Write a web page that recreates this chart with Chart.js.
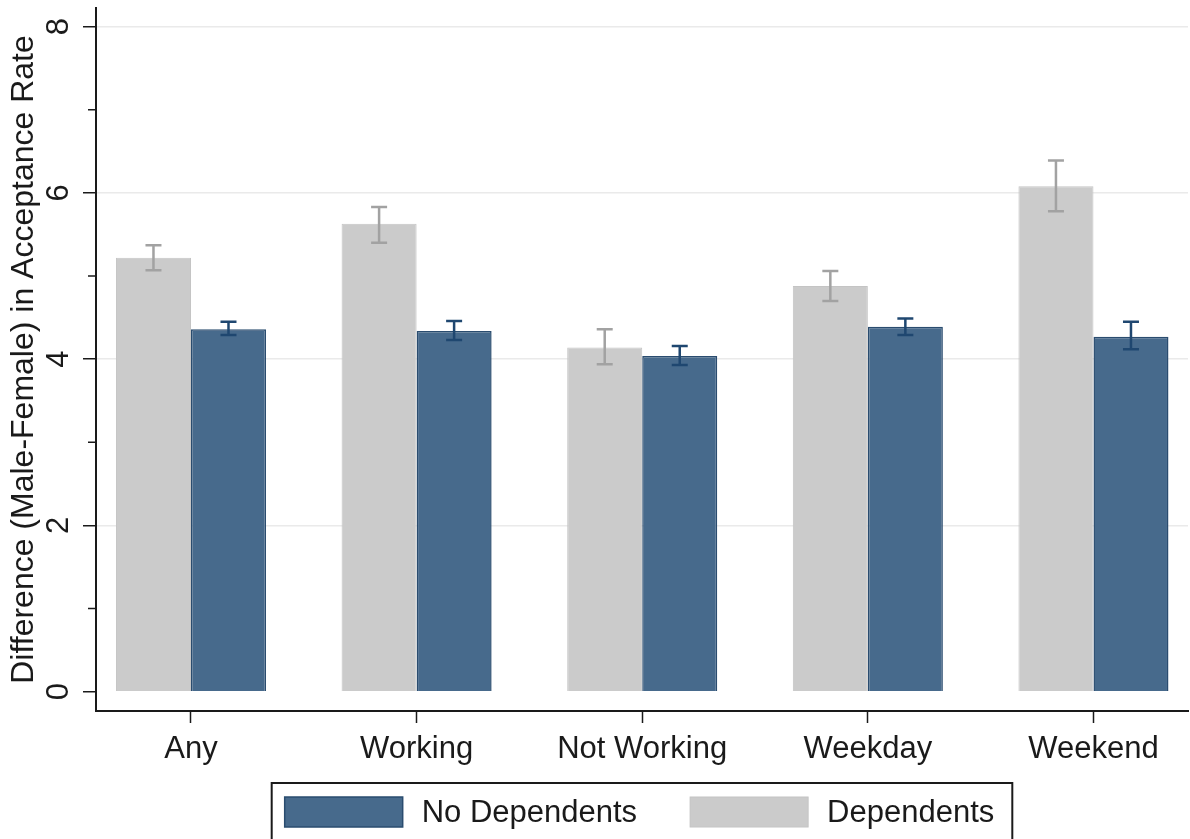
<!DOCTYPE html>
<html>
<head>
<meta charset="utf-8">
<script src="https://cdn.jsdelivr.net/npm/chart.js@4/dist/chart.umd.min.js"></script>
<style>
  html, body { margin: 0; padding: 0; background: #fff; }
  canvas { display: block; }
</style>
</head>
<body>
<canvas id="chart" width="1190" height="839"></canvas>
<script>
// categories and values
const categories = ["Any", "Working", "Not Working", "Weekday", "Weekend"]
const depMean = [5.22, 5.63, 4.14, 4.88, 6.08]
const depLow = [5.07, 5.40, 3.94, 4.70, 5.78]
const depHigh = [5.37, 5.83, 4.36, 5.06, 6.39]
const noDepMean = [4.36, 4.34, 4.04, 4.39, 4.27]
const noDepLow = [4.29, 4.23, 3.93, 4.29, 4.12]
const noDepHigh = [4.45, 4.46, 4.16, 4.49, 4.45]
const yTicks = [0, 2, 4, 6, 8]
const yMinorTicks = [1, 3, 5, 7]

const FONT = "'Liberation Sans', Arial, sans-serif"
const INK = "#1a1a1a"

// error bars drawn at each bar's x, heights from the y scale
const errorBars = {
  id: "errorBars",
  afterDatasetsDraw(chart) {
    const ctx = chart.ctx
    const y = chart.scales.y
    chart.data.datasets.forEach((ds, d) => {
      const meta = chart.getDatasetMeta(d)
      meta.data.forEach((bar, i) => {
        const top = y.getPixelForValue(ds.errHigh[i])
        const bot = y.getPixelForValue(ds.errLow[i])
        ctx.save()
        ctx.strokeStyle = ds.errColor
        ctx.lineWidth = 2.5
        ctx.beginPath()
        ctx.moveTo(bar.x, top); ctx.lineTo(bar.x, bot)
        ctx.moveTo(bar.x - 8, top); ctx.lineTo(bar.x + 8, top)
        ctx.moveTo(bar.x - 8, bot); ctx.lineTo(bar.x + 8, bot)
        ctx.stroke()
        ctx.restore()
      })
    })
  }
}

// short minor ticks on the y axis
const minorTicks = {
  id: "minorTicks",
  afterDraw(chart) {
    const ctx = chart.ctx
    const y = chart.scales.y
    const x0 = chart.chartArea.left
    ctx.save()
    ctx.strokeStyle = INK
    ctx.lineWidth = 1.5
    ctx.beginPath()
    yMinorTicks.forEach(v => {
      const py = y.getPixelForValue(v)
      ctx.moveTo(x0 - 8, py); ctx.lineTo(x0, py)
    })
    ctx.stroke()
    ctx.restore()
  }
}

// boxed legend under the plot, items in reverse dataset order
const boxedLegend = {
  id: "boxedLegend",
  afterDraw(chart) {
    const ctx = chart.ctx
    const area = chart.chartArea
    const items = chart.data.datasets.slice().reverse()
    const swW = 118, swH = 30, gapText = 19, gapItem = 53, padL = 13, padR = 18
    ctx.save()
    ctx.font = "31px " + FONT
    const widths = items.map(ds => ctx.measureText(ds.label).width)
    let total = padL + padR + gapItem * (items.length - 1)
    widths.forEach(w => { total += swW + gapText + w })
    const frameLeft = (area.left + area.right) / 2 - total / 2
    const frameTop = 783
    const swTop = frameTop + 14
    ctx.strokeStyle = INK
    ctx.lineWidth = 2
    ctx.strokeRect(frameLeft, frameTop, total, chart.height + 10 - frameTop)
    let x = frameLeft + padL
    items.forEach((ds, i) => {
      ctx.fillStyle = ds.backgroundColor
      ctx.fillRect(x, swTop, swW, swH)
      ctx.strokeStyle = ds.borderColor
      ctx.lineWidth = ds.borderWidth
      ctx.strokeRect(x, swTop, swW, swH)
      ctx.fillStyle = INK
      ctx.textBaseline = "middle"
      ctx.textAlign = "left"
      ctx.fillText(ds.label, x + swW + gapText, swTop + swH / 2 + 1)
      x += swW + gapText + widths[i] + gapItem
    })
    ctx.restore()
  }
}

new Chart(document.getElementById("chart"), {
  type: "bar",
  data: {
    datasets: [
      {
        label: "Dependents",
        data: categories.map((c, i) => ({ x: i + 1, y: depMean[i] })),
        backgroundColor: "#cbcbcb",
        borderColor: "#c4c4c4",
        borderWidth: 1,
        errLow: depLow,
        errHigh: depHigh,
        errColor: "#a2a2a2",
      },
      {
        label: "No Dependents",
        data: categories.map((c, i) => ({ x: i + 1, y: noDepMean[i] })),
        backgroundColor: "#476a8c",
        borderColor: "#2a4c6f",
        borderWidth: 1.5,
        errLow: noDepLow,
        errHigh: noDepHigh,
        errColor: "#1f4770",
      },
    ],
  },
  plugins: [errorBars, minorTicks, boxedLegend],
  options: {
    responsive: false,
    animation: false,
    categoryPercentage: 0.665,
    barPercentage: 1,
    layout: { padding: { top: 8, right: 2, left: 0, bottom: 0 } },
    plugins: {
      tooltip: { enabled: false },
      legend: { display: false },
    },
    scales: {
      x: {
        type: "linear",
        offset: false,
        min: 0.579,
        max: 5.419,
        afterBuildTicks: s => { s.ticks = categories.map((c, i) => ({ value: i + 1 })) },
        afterFit: s => { s.height = 128; s.paddingLeft = 0; s.paddingRight = 0 },
        ticks: {
          autoSkip: false,
          maxRotation: 0,
          padding: 8,
          color: INK,
          font: { family: FONT, size: 31 },
          callback: v => categories[v - 1],
        },
        grid: { offset: false, drawOnChartArea: false, drawTicks: true, tickLength: 12, tickColor: INK, tickWidth: 1.5 },
        border: { display: true, color: INK, width: 2 },
      },
      y: {
        min: -0.232,
        max: 8.225,
        afterBuildTicks: s => { s.ticks = yTicks.map(v => ({ value: v })) },
        afterFit: s => { s.width = 96; s.paddingTop = 0; s.paddingBottom = 0 },
        ticks: {
          minRotation: 90,
          maxRotation: 90,
          crossAlign: "center",
          padding: 15,
          color: INK,
          font: { family: FONT, size: 31 },
        },
        grid: {
          color: ctx => (ctx.tick && ctx.tick.value > 0 ? "#eaeaea" : "rgba(0,0,0,0)"),
          lineWidth: 1.5,
          tickLength: 13,
          tickColor: INK,
          tickWidth: 1.5,
        },
        border: { display: true, color: INK, width: 2 },
        title: {
          display: true,
          text: "Difference (Male-Female) in Acceptance Rate",
          color: INK,
          font: { family: FONT, size: 32 },
          padding: { top: 5, bottom: 0 },
        },
      },
    },
  },
})
</script>
</body>
</html>
